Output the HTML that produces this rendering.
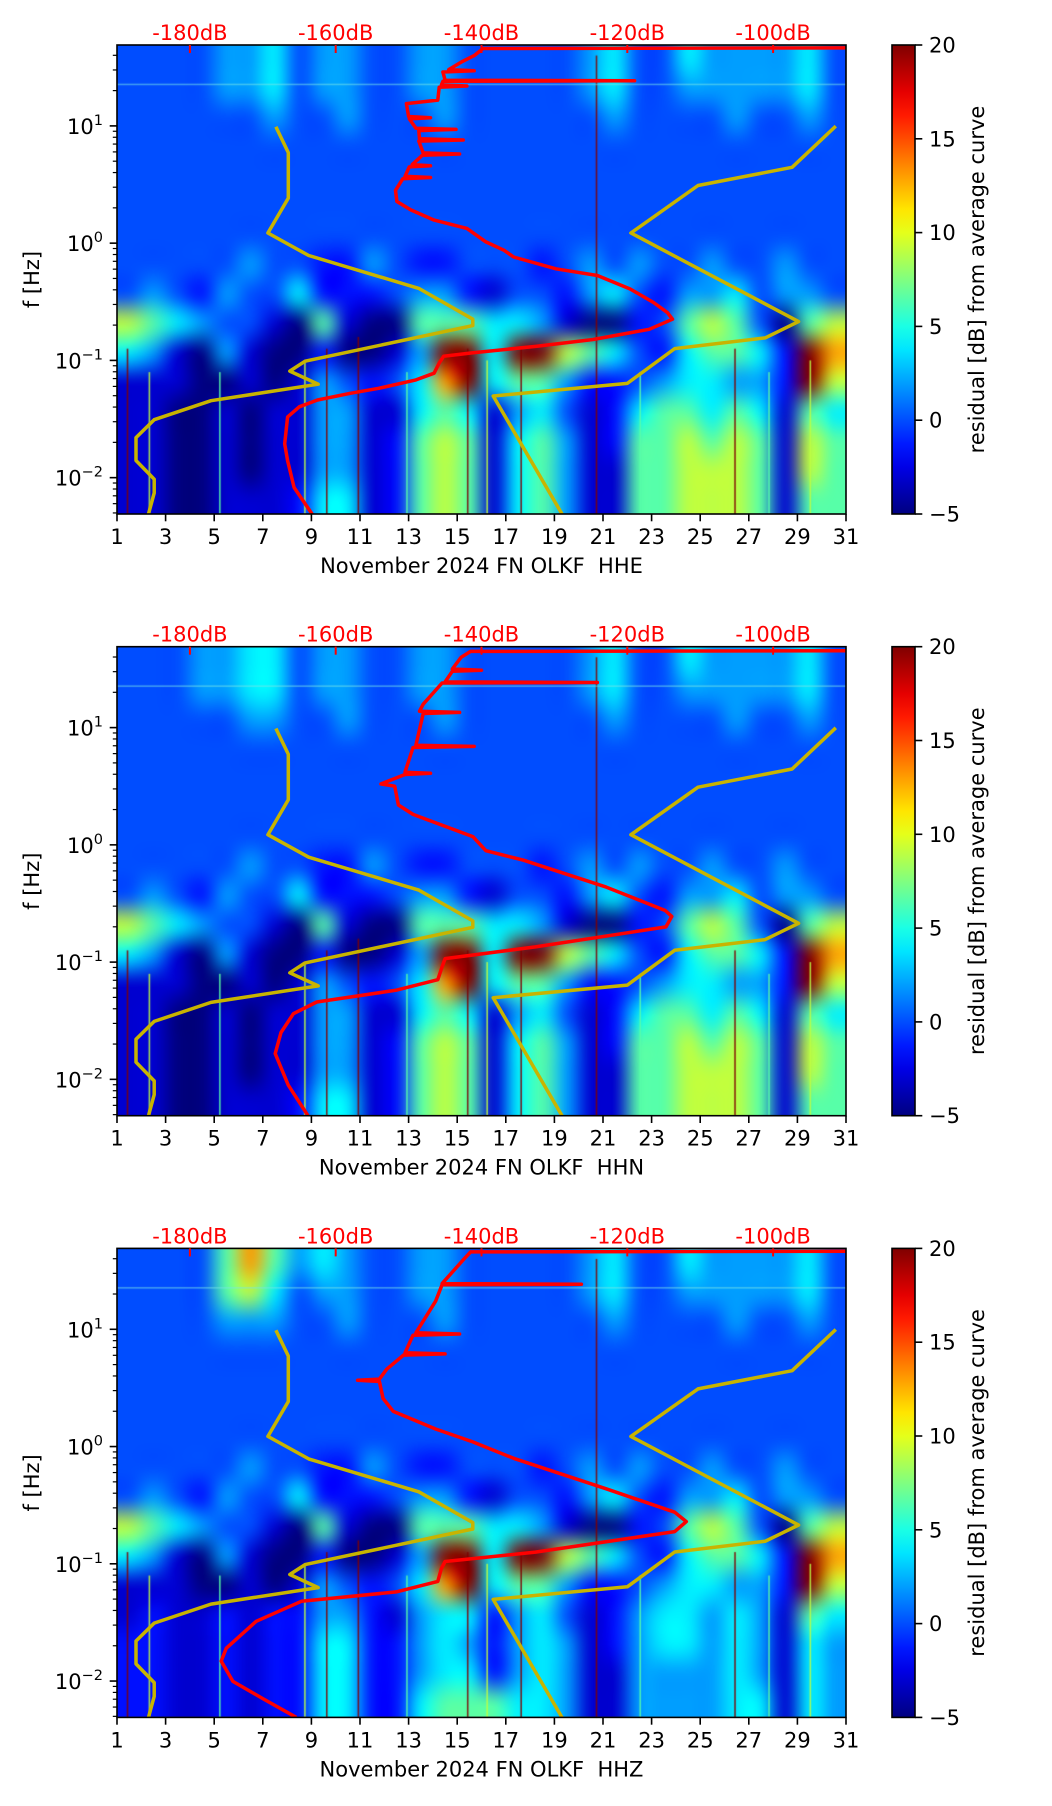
<!DOCTYPE html>
<html><head><meta charset="utf-8">
<style>
html,body{margin:0;padding:0;background:#fff;}
#wrap{position:relative;width:1052px;height:1806px;overflow:hidden;}
#heat{position:absolute;left:0;top:0;}
#ov{position:absolute;left:0;top:0;}
text{font-family:"DejaVu Sans","Liberation Sans",sans-serif;font-size:21px;white-space:pre;}
</style></head>
<body>
<div id="wrap">
<canvas id="heat" width="1052" height="1806"></canvas>
<svg id="ov" width="1052" height="1806" xmlns="http://www.w3.org/2000/svg">
<defs><linearGradient id="jetg" x1="0" y1="1" x2="0" y2="0"></linearGradient></defs>
</svg>
</div>
<script>
// ---------- data ----------
const levelValues = [-5,-3,-1.5,0,2,4,6.5,9,13,20];
const xTickDays = [1,3,5,7,9,11,13,15,17,19,21,23,25,27,29,31];
const dbTicks = [-180,-160,-140,-120,-100];
const cbTicks = [-5,0,5,10,15,20];
const yDecades = [-2,-1,0,1];
const channelNames = ["HHE","HHN","HHZ"];

// rows: log10 f bands from 1.69 down to -2.31 (0.25 decade each); columns: days 1..30
const heatRows1 = [
"333344534433443333345335444453",
"333344534433443333345334444453",
"333333433433343333334333343343",
"333333333333333333333333333333",
"333333333333333333333333333333",
"333333333333333333333333333333",
"333333333333333333333333333333",
"333334332243223332343433433433",
"343243352223442133245324453443",
"765433106100666554100236763067",
"541041002001499599765325665298",
"111001014323589566422345544297",
"110010114411565145312566565165",
"110010114412676156412667676176",
"110010114412676156411667776176",
"110011125512676156411667776166"];
const heatRows2 = [
"333445534433443333345335444453",
"333445534433443333345334444453",
"333334433433343333334333343343",
"333333333333333333333333333333",
"333333333333333333333333333333",
"333333333333333333333333333333",
"333333333333333333333333333333",
"333334332243223332343433433433",
"343243352223442133245324453443",
"765433106100666554100236763067",
"541041002001499599765325665298",
"111001014323589566422345544297",
"110010114411565145312566565165",
"110010114412676156412667676176",
"110010114412676156411667776176",
"110011125512676156411667776166"];
const heatRows3 = [
"333368645433443333345335444453",
"333367534433443333345334444453",
"333344433433343333334333343343",
"333333333333333333333333333333",
"333333333333333333333333333333",
"333333333333333333333333333333",
"333333333333333333333333333333",
"333334332243223332343433433433",
"343243352223442133245324453443",
"765433106100666554100236763067",
"541041002001499599765325665298",
"111001014323589566422345544297",
"121121224421455245312455454165",
"221121225522454245412455454154",
"221121225522455245411444454154",
"221121225522566655411444455154"];

// thin vertical streaks (day, level, top log10 f)
const streakDays = [1.4,2.3,5.2,8.7,9.6,10.9,12.9,15.4,16.2,17.6,20.7,22.5,26.4,27.8,29.5];
const streakLevels = [9,7,6,7,9,9,6,9,7,9,9,6,9,6,7];
const streakTops = [-0.9,-1.1,-1.1,-1.0,-0.9,-0.8,-1.1,-0.9,-1.0,-0.9,1.6,-1.1,-0.9,-1.1,-1.0];

// red average PSD curve (dB vs log10 f), per channel
const redDb1 = [-163.2,-165.7,-166.6,-167.0,-166.6,-165.0,-162.5,-158.0,-154.1,-149.0,-146.5,-145.8,-145.2,-141.3,-132.4,-124.7,-117.0,-113.8,-114.5,-116.4,-119.6,-124.1,-129.8,-135.6,-136.9,-139.4,-142.0,-146.5,-149.7,-151.6,-151.8,-150.8,-147,-150.5,-149.9,-147,-149.5,-148.1,-143,-148,-148.6,-142.5,-148.5,-148.6,-143.5,-149,-149.9,-147,-150,-150.3,-146,-145.8,-142,-145.5,-145.3,-119,-145,-145.3,-141,-144.5,-142.6,-141,-139.8,-90];
const redLogF1 = [-2.314,-2.084,-1.855,-1.711,-1.482,-1.396,-1.338,-1.281,-1.238,-1.166,-1.109,-1.022,-0.965,-0.936,-0.879,-0.822,-0.735,-0.649,-0.592,-0.506,-0.391,-0.276,-0.219,-0.118,-0.061,0.011,0.126,0.197,0.284,0.355,0.45,0.55,0.56,0.57,0.65,0.66,0.67,0.75,0.76,0.77,0.87,0.88,0.89,0.96,0.97,0.98,1.06,1.07,1.08,1.19,1.22,1.33,1.34,1.35,1.38,1.385,1.39,1.46,1.47,1.48,1.55,1.6,1.66,1.665];
const redDb2 = [-163.8,-166.5,-168.3,-167.5,-165.8,-162.6,-151.7,-146,-145.4,-145,-132.6,-114.7,-113.9,-114.8,-122.9,-134.3,-139.4,-141.2,-149.4,-151.4,-151.9,-153.8,-150.5,-147,-150.5,-149.4,-141,-149,-148,-143,-148.5,-148,-145.4,-124.1,-145,-144,-140,-144,-142.8,-141.5,-90];
const redLogF2 = [-2.31,-2.05,-1.78,-1.6,-1.44,-1.34,-1.24,-1.15,-1.04,-0.97,-0.87,-0.70,-0.61,-0.56,-0.36,-0.13,-0.05,0.07,0.26,0.34,0.50,0.52,0.60,0.61,0.62,0.83,0.84,0.85,1.12,1.13,1.14,1.2,1.38,1.385,1.39,1.48,1.49,1.5,1.60,1.65,1.655];
const redDb3 = [-165.4,-170,-174.1,-175.7,-175.0,-170.9,-164.7,-151.7,-146,-145.5,-145,-132.6,-113.5,-111.9,-113.5,-122.9,-135.6,-141.2,-146.3,-152.1,-153.5,-154,-157,-154,-153,-150.7,-145,-150.5,-149.4,-143,-149,-146.3,-145.4,-126.3,-145.4,-142.4,-141.5,-90];
const redLogF3 = [-2.31,-2.15,-2.003,-1.83,-1.72,-1.49,-1.32,-1.24,-1.15,-1.04,-0.98,-0.9,-0.725,-0.64,-0.56,-0.36,-0.1,0.04,0.15,0.30,0.41,0.555,0.565,0.575,0.66,0.78,0.79,0.8,0.95,0.96,0.97,1.24,1.38,1.385,1.39,1.60,1.66,1.665];

// yellow noise models (dB vs log10 f)
const lowModelDb = [-185.7,-184.9,-184.9,-187.4,-187.4,-184.9,-177.1,-162.4,-166.3,-164.2,-141.2,-141.2,-148.6,-163.7,-169.3,-166.5,-166.5,-168.2];
const lowModelLogF = [-2.316,-2.131,-2.013,-1.854,-1.658,-1.506,-1.344,-1.203,-1.091,-1.007,-0.703,-0.649,-0.386,-0.105,0.087,0.384,0.772,0.992];
const highModelDb = [-128.9,-138.4,-120.0,-113.5,-101.1,-96.5,-119.5,-110.3,-97.4,-91.4];
const highModelLogF = [-2.316,-1.304,-1.196,-0.899,-0.808,-0.669,0.087,0.492,0.647,0.998];

// ---------- layout ----------
const L = 117, W = 729, H = 469;
const tops = [45, 646.7, 1248.4];
const LOGMAX = 1.69, LOGMIN = -2.31;
const CBX = 892, CBW = 23;
const NS = "http://www.w3.org/2000/svg";
const svg = document.getElementById('ov');
const ctx = document.getElementById('heat').getContext('2d');

function xDay(d){ return L + (d-1)/30*W; }
function xDb(db){ return xDay(1 + (db+190)*0.3); }
function yLog(top, lf){ return top + (LOGMAX-lf)/(LOGMAX-LOGMIN)*H; }
function jet(v){
  const t = Math.max(0, Math.min(1, (v+5)/25));
  const c = x => Math.round(255*Math.max(0, Math.min(1, 1.5-Math.abs(x))));
  return [c(4*t-3), c(4*t-2), c(4*t-1)];
}
function el(tag, attrs, parent){
  const e = document.createElementNS(NS, tag);
  for (const k in attrs) e.setAttribute(k, attrs[k]);
  (parent||svg).appendChild(e);
  return e;
}

const grad = document.getElementById('jetg');
for (let i=0;i<=20;i++){
  const v = -5 + i*25/20; const c = jet(v);
  el('stop', {offset:(i/20), 'stop-color':'rgb('+c+')'}, grad);
}

const heatSets = [heatRows1, heatRows2, heatRows3];
const redDbSets = [redDb1, redDb2, redDb3];
const redLfSets = [redLogF1, redLogF2, redLogF3];

for (let p=0;p<3;p++){
  const top = tops[p];
  const rows = heatSets[p];
  const off = document.createElement('canvas');
  off.width = 30; off.height = rows.length;
  const oc = off.getContext('2d');
  const img = oc.createImageData(30, rows.length);
  for (let r=0;r<rows.length;r++){
    for (let d=0; d<30; d++){
      const ch = rows[r][d] || '3';
      const c = jet(levelValues[+ch]);
      const i = (r*30+d)*4;
      img.data[i]=c[0]; img.data[i+1]=c[1]; img.data[i+2]=c[2]; img.data[i+3]=255;
    }
  }
  oc.putImageData(img,0,0);
  ctx.imageSmoothingEnabled = true;
  ctx.imageSmoothingQuality = 'high';
  ctx.drawImage(off, 0, 0, 30, rows.length, L, top, W, H);
  for (let s=0;s<streakDays.length;s++){
    const c = jet(levelValues[streakLevels[s]]);
    ctx.fillStyle = 'rgba('+c+',0.85)';
    const yt = yLog(top, streakTops[s]);
    ctx.fillRect(xDay(streakDays[s]), yt, 1.6, top+H-yt);
  }
  ctx.fillStyle = 'rgba(120,230,230,0.55)';
  ctx.fillRect(L, yLog(top,1.36), W, 1.5);

  const g = el('g', {});
  
  

  const clipId = 'clip'+p;
  const cp = el('clipPath', {id:clipId}, g);
  el('rect', {x:L, y:top, width:W, height:H}, cp);

  const lowPts = lowModelDb.map((db,i)=>xDb(db).toFixed(1)+','+yLog(top,lowModelLogF[i]).toFixed(1)).join(' ');
  const low = el('polyline', {points:lowPts, fill:'none', stroke:'#c8b400', 'stroke-width':3.5, 'stroke-linejoin':'round', 'clip-path':'url(#'+clipId+')'}, g);
  
  
  const highPts = highModelDb.map((db,i)=>xDb(db).toFixed(1)+','+yLog(top,highModelLogF[i]).toFixed(1)).join(' ');
  const high = el('polyline', {points:highPts, fill:'none', stroke:'#c8b400', 'stroke-width':3.5, 'stroke-linejoin':'round', 'clip-path':'url(#'+clipId+')'}, g);
  
  

  const rd = redDbSets[p], rl = redLfSets[p];
  const redPts = rd.map((db,i)=>xDb(db).toFixed(1)+','+yLog(top,rl[i]).toFixed(1)).join(' ');
  const red = el('polyline', {points:redPts, fill:'none', stroke:'#ff0000', 'stroke-width':3.5, 'stroke-linejoin':'round', 'clip-path':'url(#'+clipId+')'}, g);
  
  

  const frame = el('rect', {x:L, y:top, width:W, height:H, fill:'none', stroke:'#000', 'stroke-width':1.6}, g);
  
  

  for (const d of xTickDays){
    const x = xDay(d);
    el('line', {x1:x, y1:top+H, x2:x, y2:top+H+7.3, stroke:'#000', 'stroke-width':1.6}, g);
    const t = el('text', {x:x, y:top+H+30, 'text-anchor':'middle', fill:'#000'}, g);
    t.textContent = d;
    
    
  }
  const xl = el('text', {x:L+W/2, y:top+H+59, 'text-anchor':'middle', fill:'#000'}, g);
  xl.textContent = 'November 2024 FN OLKF  ' + channelNames[p];
  
  

  for (const db of dbTicks){
    const x = xDb(db);
    el('line', {x1:x, y1:top, x2:x, y2:top+8, stroke:'#ff0000', 'stroke-width':2}, g);
    const t = el('text', {x:x, y:top-5, 'text-anchor':'middle', fill:'#ff0000'}, g);
    t.textContent = db + 'dB';
    
    
  }

  for (const dec of yDecades){
    const y = yLog(top, dec);
    el('line', {x1:L-7.3, y1:y, x2:L, y2:y, stroke:'#000', 'stroke-width':1.6}, g);
    const t = el('text', {x:L-14, y:y+8, 'text-anchor':'end', fill:'#000'}, g);
    
    
    const t1 = el('tspan', {}, t); t1.textContent = '10';
    const t2 = el('tspan', {dy:-9, 'font-size':'14.5px'}, t); t2.textContent = (dec<0?'\u2212':'') + Math.abs(dec);
  }
  for (let dec=-3; dec<=1; dec++){
    for (let m=2;m<=9;m++){
      const lf = dec + Math.log10(m);
      if (lf < LOGMIN || lf > LOGMAX) continue;
      const y = yLog(top, lf);
      el('line', {x1:L-4.2, y1:y, x2:L, y2:y, stroke:'#000', 'stroke-width':1.2}, g);
    }
  }
  const yl = el('text', {x:0, y:0, 'text-anchor':'middle', fill:'#000', transform:'translate(39,'+(top+H/2)+') rotate(-90)'}, g);
  yl.textContent = 'f [Hz]';
  
  

  const cb = el('rect', {x:CBX, y:top, width:CBW, height:H, fill:'url(#jetg)', stroke:'#000', 'stroke-width':1.6}, g);
  
  
  for (const v of cbTicks){
    const y = top + H - (v+5)/25*H;
    el('line', {x1:CBX+CBW, y1:y, x2:CBX+CBW+7.3, y2:y, stroke:'#000', 'stroke-width':1.6}, g);
    const t = el('text', {x:CBX+CBW+14, y:y+7.5, fill:'#000'}, g);
    t.textContent = v < 0 ? '\u2212' + Math.abs(v) : v;
    
    
  }
  const cl = el('text', {x:0, y:0, 'text-anchor':'middle', fill:'#000', transform:'translate(984,'+(top+H/2)+') rotate(-90)'}, g);
  cl.textContent = 'residual [dB] from average curve';
  
  
}
</script>
</body></html>
